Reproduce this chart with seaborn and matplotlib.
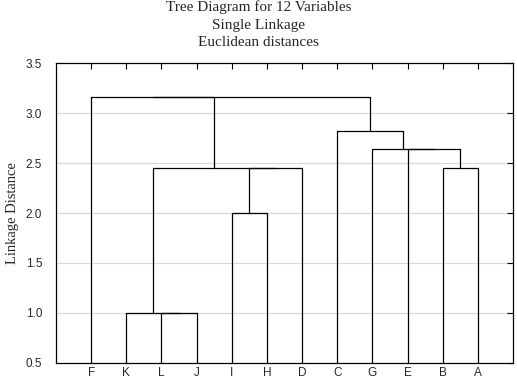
import pandas as pd
import matplotlib.pyplot as plt
import seaborn as sns

# Leaves in display order and the single-linkage merges (child, child, height)
leaves = ['F', 'K', 'L', 'J', 'I', 'H', 'D', 'C', 'G', 'E', 'B', 'A']
merge_a = ['L', 'K', 'I', 'IH', 'KLJ', 'B', 'E', 'G', 'C', 'F', 'FKLJIHD']
merge_b = ['J', 'LJ', 'H', 'D', 'IHD', 'A', 'BA', 'EBA', 'GEBA', 'KLJIHD', 'CGEBA']
merge_h = [1.0, 1.0, 2.0, 2.449, 2.449, 2.449, 2.646, 2.646, 2.828, 3.162, 3.162]
y_ticks = [0.5, 1.0, 1.5, 2.0, 2.5, 3.0, 3.5]

# Work out link segments from the merges
xpos = {name: i + 1 for i, name in enumerate(leaves)}
hpos = {name: 0.0 for name in leaves}
rows = []
for k, (a, b, h) in enumerate(zip(merge_a, merge_b, merge_h)):
    xs = [xpos[a], xpos[a], xpos[b], xpos[b]]
    ys = [hpos[a], h, h, hpos[b]]
    for j, (x, y) in enumerate(zip(xs, ys)):
        rows.append({'link': k, 'order': j, 'x': x, 'y': y})
    xpos[a + b] = (xpos[a] + xpos[b]) / 2
    hpos[a + b] = h
segments = pd.DataFrame(rows)

sns.set_style('white')
plt.rcParams['font.family'] = ['Liberation Sans', 'DejaVu Sans']

fig = plt.figure(figsize=(5.17, 3.79), dpi=100)
ax = fig.add_axes([0.1083, 0.043, 0.8842, 0.7895])

ax.set_ylim(0.5, 3.5)
ax.set_xlim(0, len(leaves) + 1)
for t in y_ticks[1:-1]:
    ax.axhline(t, color='#d9d9d9', lw=0.9, zorder=0)

sns.lineplot(data=segments, x='x', y='y', units='link', estimator=None,
             sort=False, color='black', lw=0.9, ax=ax, legend=False)

ax.set_xticks(range(1, len(leaves) + 1))
ax.set_xticklabels(leaves, fontsize=8.5)
ax.set_yticks(y_ticks)
ax.set_yticklabels([f'{t:.1f}' for t in y_ticks], fontsize=8.5)
ax.tick_params(axis='x', which='both', direction='in', length=4, top=True,
               bottom=False, labelbottom=True, pad=3, color='black', width=0.8)
ax.tick_params(axis='y', which='both', direction='in', length=4, right=True,
               left=False, pad=10, color='black', width=0.8)
for s in ax.spines.values():
    s.set_color('black')
    s.set_linewidth(0.9)

ax.set_xlabel('')
ax.set_ylabel('Linkage Distance', family='Liberation Serif', fontsize=10.5,
              labelpad=5)

fig.text(0.5, 0.981, 'Tree Diagram for 12 Variables', ha='center', va='center',
         family='Liberation Serif', fontsize=11)
fig.text(0.5, 0.934, 'Single Linkage', ha='center', va='center',
         family='Liberation Serif', fontsize=11)
fig.text(0.5, 0.887, 'Euclidean distances', ha='center', va='center',
         family='Liberation Serif', fontsize=11)

fig.savefig('out.png', dpi=100)
